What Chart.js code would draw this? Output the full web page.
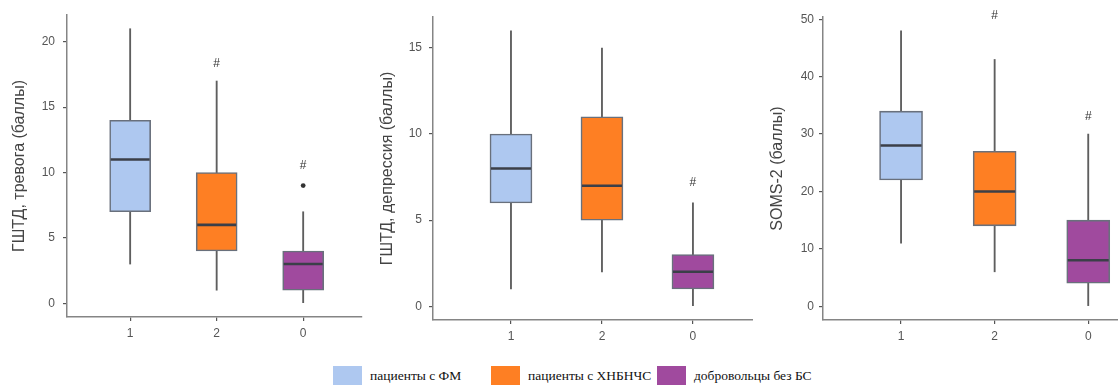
<!DOCTYPE html>
<html>
<head>
<meta charset="utf-8">
<script src="https://cdn.jsdelivr.net/npm/chart.js@4/dist/chart.umd.min.js"></script>
<style>
  html, body { margin: 0; padding: 0; background: #fff; }
  body { width: 1118px; height: 385px; overflow: hidden; position: relative; }
  .panel { position: absolute; top: 0; height: 345px; }
  .legend { position: absolute; top: 366px; left: 0; width: 1118px; height: 19px;
            font-family: "Liberation Serif", "Times New Roman", serif; font-size: 13.5px; color: #111; }
  .legend .sw { position: absolute; top: 0; width: 29px; height: 22px; }
  .legend .lb { position: absolute; top: 2px; white-space: nowrap; }
</style>
</head>
<body>
<div class="panel" id="p1" style="left:0;width:370px"><canvas id="c1"></canvas></div>
<div class="panel" id="p2" style="left:370px;width:383px"><canvas id="c2"></canvas></div>
<div class="panel" id="p3" style="left:760px;width:390px"><canvas id="c3"></canvas></div>
<div class="legend" id="legend"></div>

<script>
// groups on the x axis (group code shown as tick label)
const groups = ['1', '2', '0'];
const seriesNames = ['пациенты с ФМ', 'пациенты с ХНБНЧС', 'добровольцы без БС'];
const groupColors = ['#aec8f0', '#fe7f23', '#a04a9e'];

// HADS anxiety
const anxMin = [3, 1, 0];
const anxQ1 = [7, 4, 1];
const anxMed = [11, 6, 3];
const anxQ3 = [14, 10, 4];
const anxMax = [21, 17, 7];
const anxOutliers = [[], [], [9]];
const anxSig = [null, 18.3, 10.5];
const anxTicks = [0, 5, 10, 15, 20];

// HADS depression
const depMin = [1, 2, 0];
const depQ1 = [6, 5, 1];
const depMed = [8, 7, 2];
const depQ3 = [10, 11, 3];
const depMax = [16, 15, 6];
const depOutliers = [[], [], []];
const depSig = [null, null, 7.2];
const depTicks = [0, 5, 10, 15];

// SOMS-2
const somMin = [11, 6, 0];
const somQ1 = [22, 14, 4];
const somMed = [28, 20, 8];
const somQ3 = [34, 27, 15];
const somMax = [48, 43, 30];
const somOutliers = [[], [], []];
const somSig = [null, 50.6, 33];
const somTicks = [0, 10, 20, 30, 40, 50];

// draws the "#" significance marks above the boxes
const sigPlugin = {
  id: 'sigMarks',
  afterDatasetsDraw(chart, args, opts) {
    const { ctx, scales: { x, y } } = chart;
    ctx.save();
    ctx.fillStyle = '#333';
    ctx.font = '12px "Liberation Sans", Arial, sans-serif';
    ctx.textAlign = 'center';
    ctx.textBaseline = 'middle';
    (opts.marks || []).forEach((v, i) => {
      if (v === null) return;
      ctx.fillText('#', x.getPixelForValue(i + 1), y.getPixelForValue(v));
    });
    ctx.restore();
  }
};

function makeBoxChart(id, cfg) {
  const pos = groups.map((g, i) => i + 1);
  const outlierPts = [];
  cfg.outliers.forEach((arr, i) => arr.forEach(v => outlierPts.push({ x: i + 1, y: v })));
  const axisLine = { display: true, color: '#858585', width: 1.5 };
  return new Chart(document.getElementById(id), {
    type: 'bar',
    data: {
      datasets: [
        {
          // whiskers
          type: 'bar',
          data: pos.map((p, i) => ({ x: p, y: [cfg.min[i], cfg.max[i]] })),
          backgroundColor: '#5e5e5e',
          barThickness: 1.2,
          grouped: false,
          order: 3
        },
        {
          // interquartile boxes
          type: 'bar',
          data: pos.map((p, i) => ({ x: p, y: [cfg.q1[i], cfg.q3[i]] })),
          backgroundColor: groupColors,
          borderColor: '#69707c',
          borderWidth: 1.6,
          borderSkipped: false,
          barThickness: cfg.boxWidth,
          grouped: false,
          order: 2
        },
        {
          // medians
          type: 'scatter',
          data: pos.map((p, i) => ({ x: p, y: cfg.med[i] })),
          pointStyle: 'line',
          pointRadius: cfg.boxWidth / 2 - 1,
          pointHoverRadius: cfg.boxWidth / 2 - 1,
          borderColor: '#3b3f48',
          borderWidth: 2.6,
          order: 1
        },
        {
          // outliers
          type: 'scatter',
          data: outlierPts,
          pointStyle: 'circle',
          pointRadius: 2.4,
          backgroundColor: '#333',
          borderColor: '#333',
          borderWidth: 0,
          order: 0
        }
      ]
    },
    options: {
      responsive: true,
      maintainAspectRatio: false,
      animation: false,
      events: [],
      layout: {
        autoPadding: false,
        padding: { top: cfg.padTop, right: cfg.padRight, left: 0, bottom: 0 }
      },
      plugins: {
        legend: { display: false },
        tooltip: { enabled: false },
        sigMarks: { marks: cfg.sig }
      },
      scales: {
        x: {
          type: 'linear',
          offset: false,
          min: cfg.xMin,
          max: cfg.xMax,
          border: axisLine,
          grid: { offset: false, drawOnChartArea: false, drawTicks: true, tickLength: 4, color: '#555', lineWidth: 1.2 },
          ticks: {
            color: '#555',
            font: { size: 12, family: '"Liberation Sans", Arial, sans-serif' },
            padding: 5,
            callback: v => groups[v - 1]
          },
          afterBuildTicks: s => { s.ticks = pos.map(v => ({ value: v })); },
          afterFit: s => { s.height = cfg.xHeight; s.paddingLeft = 0; s.paddingRight = 0; }
        },
        y: {
          min: cfg.yMin,
          max: cfg.yMax,
          border: axisLine,
          grid: { drawOnChartArea: false, drawTicks: true, tickLength: 4, color: '#555', lineWidth: 1.2 },
          ticks: {
            color: '#555',
            font: { size: 12, family: '"Liberation Sans", Arial, sans-serif' },
            padding: cfg.tickPad
          },
          afterBuildTicks: s => { s.ticks = cfg.ticks.map(v => ({ value: v })); },
          afterFit: s => { s.width = cfg.yWidth; s.paddingTop = 0; s.paddingBottom = 0; },
          title: {
            display: true,
            text: cfg.title,
            color: '#444',
            font: { size: 16, family: '"Liberation Sans", Arial, sans-serif' },
            padding: { top: cfg.titlePad, bottom: 0 }
          }
        }
      }
    },
    plugins: [sigPlugin]
  });
}

makeBoxChart('c1', {
  min: anxMin, q1: anxQ1, med: anxMed, q3: anxQ3, max: anxMax,
  outliers: anxOutliers, sig: anxSig, ticks: anxTicks,
  title: 'ГШТД, тревога (баллы)',
  yMin: -1.05, yMax: 22.05, xMin: 0.27, xMax: 3.68,
  boxWidth: 41, padTop: 15, padRight: 8, xHeight: 28, yWidth: 67, tickPad: 8, titlePad: 10
});

makeBoxChart('c2', {
  min: depMin, q1: depQ1, med: depMed, q3: depQ3, max: depMax,
  outliers: depOutliers, sig: depSig, ticks: depTicks,
  title: 'ГШТД, депрессия (баллы)',
  yMin: -0.8, yMax: 16.8, xMin: 0.143, xMax: 3.66,
  boxWidth: 42, padTop: 17, padRight: 0, xHeight: 25, yWidth: 63, tickPad: 7, titlePad: 8
});

makeBoxChart('c3', {
  min: somMin, q1: somQ1, med: somMed, q3: somQ3, max: somMax,
  outliers: somOutliers, sig: somSig, ticks: somTicks,
  title: 'SOMS-2 (баллы)',
  yMin: -2.4, yMax: 50.4, xMin: 0.166, xMax: 3.66,
  boxWidth: 43, padTop: 17, padRight: 0, xHeight: 25, yWidth: 63, tickPad: 5, titlePad: 8
});

// shared legend under the panels
const legendEl = document.getElementById('legend');
const legendX = [333, 491, 657];
seriesNames.forEach((name, i) => {
  const sw = document.createElement('div');
  sw.className = 'sw';
  sw.style.left = legendX[i] + 'px';
  sw.style.background = groupColors[i];
  legendEl.appendChild(sw);
  const lb = document.createElement('div');
  lb.className = 'lb';
  lb.style.left = (legendX[i] + 37) + 'px';
  lb.textContent = name;
  legendEl.appendChild(lb);
});
</script>
</body>
</html>
